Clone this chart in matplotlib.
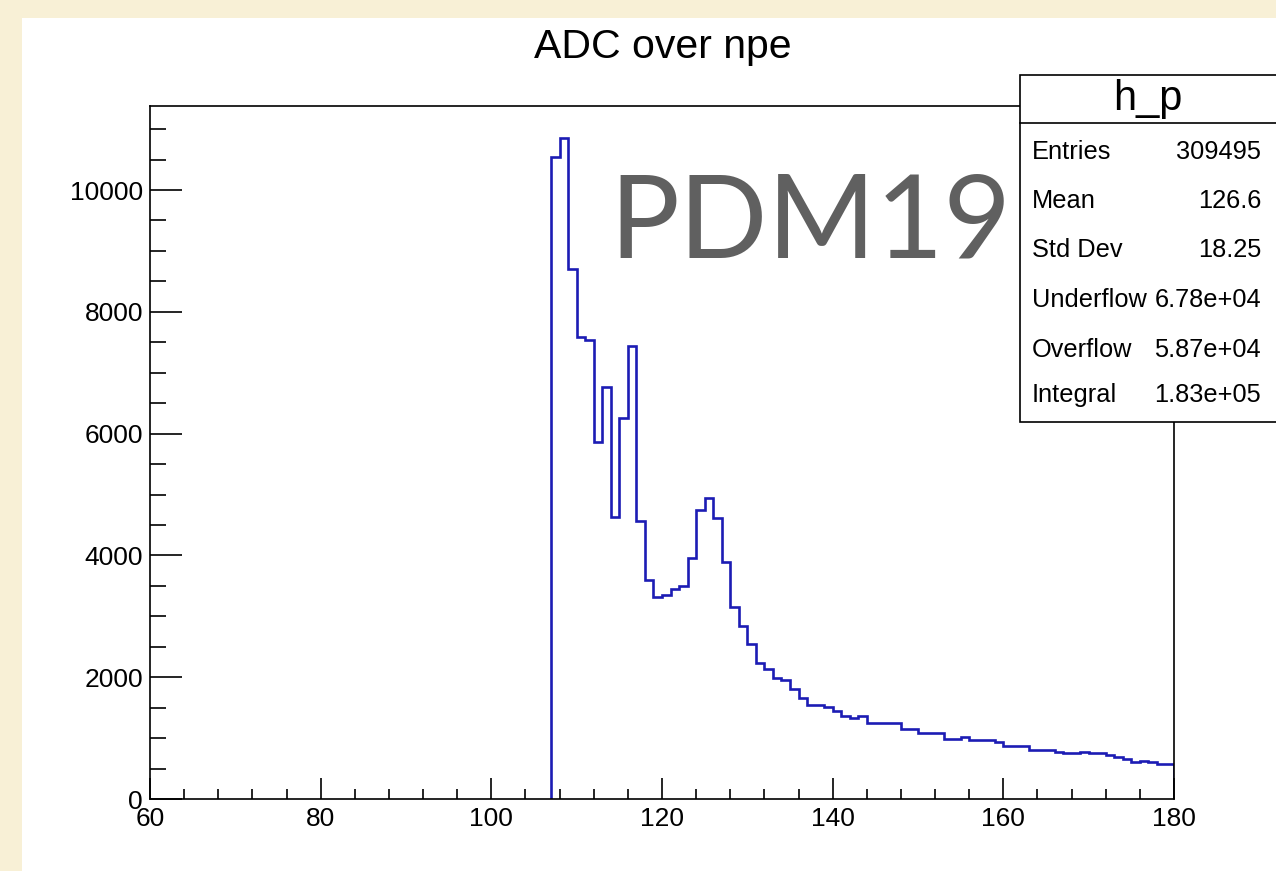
import numpy as np
import matplotlib
matplotlib.use("Agg")
import matplotlib.pyplot as plt
from matplotlib.patches import Rectangle
from matplotlib.lines import Line2D

# ---------------- data ----------------
x_min, x_max = 60, 180
first_bin = 107
counts = [10550, 10850, 8700, 7580, 7530, 5860, 6770, 4630, 6250, 7440,
          4560, 3600, 3320, 3350, 3450, 3500, 3960, 4750, 4950, 4620,
          3900, 3150, 2840, 2540, 2230, 2140, 1990, 1960, 1800, 1660,
          1540, 1540, 1510, 1450, 1360, 1330, 1360, 1240, 1240, 1240,
          1240, 1150, 1150, 1090, 1090, 1090, 990, 990, 1025, 965,
          965, 965, 930, 870, 870, 870, 810, 810, 810, 780,
          750, 750, 780, 750, 750, 720, 690, 660, 600, 630,
          600, 570, 570]
x_ticks = [60, 80, 100, 120, 140, 160, 180]
y_ticks = [0, 2000, 4000, 6000, 8000, 10000]
title = "ADC over npe"
stat_name = "h_p"
stat_labels = ["Entries", "Mean", "Std Dev", "Underflow", "Overflow", "Integral"]
stat_values = ["309495", "126.6", "18.25", "6.78e+04", "5.87e+04", "1.83e+05"]
watermark = "PDM19"

# ---------------- figure ----------------
W, H = 1276, 871
fig = plt.figure(figsize=(W / 100, H / 100), dpi=100)
fig.patch.set_facecolor("#F8F0D6")
plt.rcParams['font.family'] = ['Liberation Sans', 'DejaVu Sans']

def fx(px):
    return px / W

def fy(py):
    return 1 - py / H

# white canvas
fig.add_artist(Rectangle((fx(22), 0), 1 - fx(22), fy(18), transform=fig.transFigure,
                         facecolor="white", edgecolor="none", zorder=-10))

ax = fig.add_axes([fx(150), fy(799), fx(1174) - fx(150), fy(106) - fy(799)])
ax.set_facecolor("white")

edges = np.arange(first_bin, first_bin + len(counts) + 1)
ax.stairs(counts, edges, baseline=0, color="#1C1CB4", linewidth=1.9)

ax.set_xlim(x_min, x_max)
ax.set_ylim(0, 11380)
ax.set_xticks(x_ticks)
ax.set_xticks(np.arange(x_min, x_max + 0.1, 4), minor=True)
ax.set_yticks(y_ticks)
ax.set_yticks(np.arange(0, 11380, 500), minor=True)
ax.tick_params(axis='x', which='major', direction='in', length=15, width=1.2,
               labelsize=19, pad=6)
ax.tick_params(axis='x', which='minor', direction='in', length=7.5, width=1.2)
ax.tick_params(axis='y', which='major', direction='in', length=23, width=1.2,
               labelsize=19, pad=5)
ax.tick_params(axis='y', which='minor', direction='in', length=11.5, width=1.2)
for s in ax.spines.values():
    s.set_linewidth(1.2)

# title
fig.text(fx(663), fy(47), title, ha="center", va="center", fontsize=29.5)

# watermark
fig.text(fx(609), fy(258), watermark, ha="left", va="baseline", fontsize=84,
         color="#606060", family=["Lato", "DejaVu Sans"], zorder=4)

# stats box
fig.add_artist(Rectangle((fx(1020), fy(421.7)), 1.02 - fx(1020), fy(75) - fy(421.7),
                         transform=fig.transFigure, facecolor="white",
                         edgecolor="black", linewidth=1.2, zorder=5))
fig.add_artist(Line2D([fx(1020), 1.0], [fy(123.3), fy(123.3)], transform=fig.transFigure,
                      color="black", linewidth=1.2, zorder=6))
fig.text(fx(1148), fy(110), stat_name, ha="center", va="baseline", fontsize=30, zorder=7)
row_y = [151.7, 201, 250, 300, 350, 395]
for yy, lab, val in zip(row_y, stat_labels, stat_values):
    fig.text(fx(1032), fy(yy), lab, ha="left", va="center", fontsize=18.3, zorder=7)
    fig.text(fx(1261), fy(yy), val, ha="right", va="center", fontsize=18.3, zorder=7)

fig.savefig("out.png", dpi=100)
